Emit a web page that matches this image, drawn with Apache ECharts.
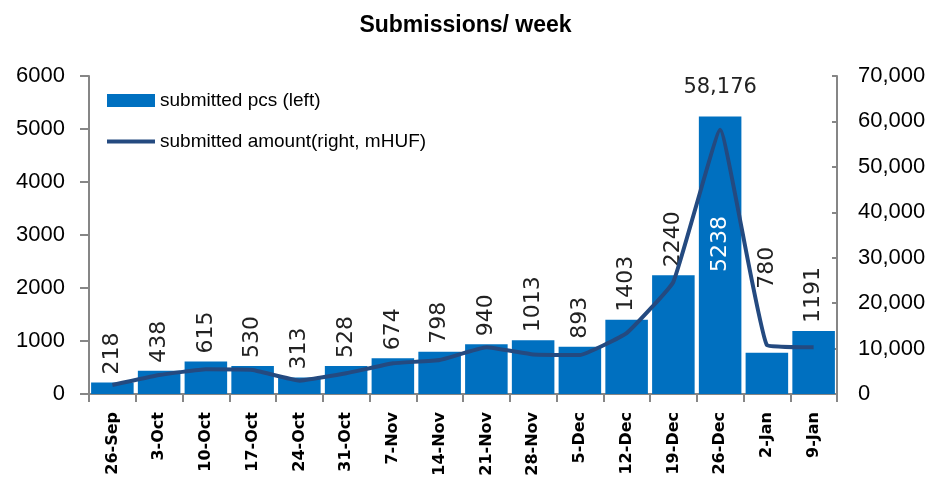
<!DOCTYPE html>
<html>
<head>
<meta charset="utf-8">
<script src="https://cdn.jsdelivr.net/npm/echarts@6/dist/echarts.min.js"></script>
<style>
  html, body { margin: 0; padding: 0; background: #fff; }
  #chart { width: 931px; height: 485px; }
</style>
</head>
<body>
<div id="chart"></div>
<script>
  // weeks
  const weeks = ['26-Sep', '3-Oct', '10-Oct', '17-Oct', '24-Oct', '31-Oct', '7-Nov', '14-Nov',
    '21-Nov', '28-Nov', '5-Dec', '12-Dec', '19-Dec', '26-Dec', '2-Jan', '9-Jan'];
  // submitted pcs (left axis)
  const pcs = [218, 438, 615, 530, 313, 528, 674, 798, 940, 1013, 893, 1403, 2240, 5238, 780, 1191];
  // submitted amount, mHUF (right axis), only the peak is labelled
  const amount = [1980, 4180, 5430, 5280, 2930, 4550, 6750, 7480, 10280, 8700, 8600, 13400, 24700, 58176, 10790, 10280];
  const leftTicks = [0, 6000, 1000];
  const rightTicks = [0, 70000, 10000];

  const sans = "'Liberation Sans', Arial, sans-serif";
  const axisGrey = '#868686';

  const pcsMax = pcs.indexOf(Math.max(...pcs));

  const barData = pcs.map(function (v, i) {
    if (i === pcsMax) {
      // tallest bar gets its label inside, in white
      return { value: v, label: { position: ['50%', '46%'], align: 'center', color: '#fff' } };
    }
    if (weeks[i] === '2-Jan') {
      // pushed up so the line doesn't run through it
      return { value: v, label: { distance: 64 } };
    }
    return v;
  });

  const chart = echarts.init(document.getElementById('chart'));
  chart.setOption({
    animation: false,
    title: {
      text: 'Submissions/ week',
      left: 'center',
      top: 9,
      textStyle: { fontFamily: sans, fontWeight: 900, fontSize: 23, color: '#000' }
    },
    legend: {
      orient: 'vertical',
      left: 102,
      top: 86,
      itemWidth: 48,
      itemHeight: 13,
      itemGap: 22,
      textStyle: { fontFamily: sans, fontSize: 19, color: '#000' },
      data: [
        { name: 'submitted pcs (left)', icon: 'rect' },
        { name: 'submitted amount(right, mHUF)', icon: 'path://M0 0H48V4H0Z' }
      ]
    },
    grid: { left: 89, right: 94, top: 76, bottom: 91 },
    xAxis: {
      type: 'category',
      data: weeks,
      axisLine: { lineStyle: { color: axisGrey, width: 2 } },
      axisTick: { show: true, length: 8, lineStyle: { color: axisGrey, width: 2 } },
      axisLabel: {
        rotate: 90,
        margin: 18,
        fontFamily: 'DejaVu Sans',
        fontWeight: 'bold',
        fontSize: 16,
        color: '#000',
        interval: 0
      }
    },
    yAxis: [
      {
        type: 'value',
        min: leftTicks[0],
        max: leftTicks[1],
        interval: leftTicks[2],
        splitLine: { show: false },
        axisLine: { show: true, lineStyle: { color: axisGrey, width: 2 } },
        axisTick: { show: true, length: 9, lineStyle: { color: axisGrey, width: 2 } },
        axisLabel: {
          margin: 24,
          fontFamily: sans,
          fontSize: 22,
          color: '#000',
          formatter: function (v) { return String(v); }
        }
      },
      {
        type: 'value',
        min: rightTicks[0],
        max: rightTicks[1],
        interval: rightTicks[2],
        splitLine: { show: false },
        axisLine: { show: true, lineStyle: { color: axisGrey, width: 2 } },
        axisTick: { show: true, inside: true, length: 5, lineStyle: { color: axisGrey, width: 2 } },
        axisLabel: {
          margin: 21,
          fontFamily: sans,
          fontSize: 22,
          color: '#000',
          formatter: function (v) { return v.toLocaleString('en-US'); }
        }
      }
    ],
    series: [
      {
        name: 'submitted pcs (left)',
        type: 'bar',
        data: barData,
        barCategoryGap: '9%',
        itemStyle: { color: '#0070C0' },
        label: {
          show: true,
          position: 'top',
          distance: 8,
          rotate: 90,
          align: 'left',
          verticalAlign: 'middle',
          fontFamily: 'DejaVu Sans',
          fontSize: 22,
          color: '#222'
        }
      },
      {
        name: 'submitted amount(right, mHUF)',
        type: 'line',
        yAxisIndex: 1,
        data: amount,
        smooth: 0.1,
        symbol: 'none',
        lineStyle: { color: '#244a80', width: 4 },
        itemStyle: { color: '#244a80' },
        markPoint: {
          symbol: 'circle',
          symbolSize: 0,
          data: [{ type: 'max' }],
          label: {
            show: true,
            position: 'top',
            distance: 32,
            fontFamily: 'DejaVu Sans',
            fontSize: 21,
            color: '#222',
            formatter: function (p) { return p.value.toLocaleString('en-US'); }
          }
        }
      }
    ]
  });
</script>
</body>
</html>
